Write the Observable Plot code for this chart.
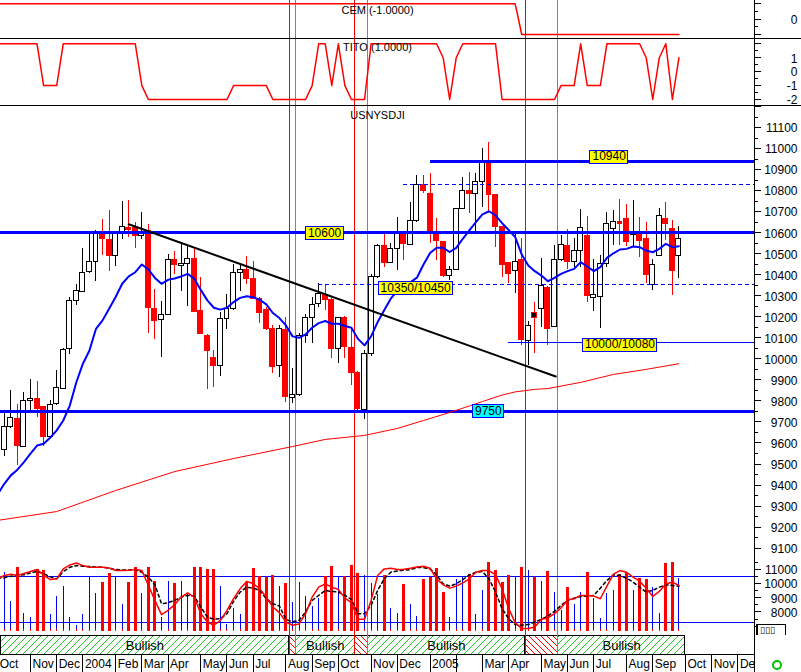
<!DOCTYPE html>
<html>
<head>
<meta charset="utf-8">
<script src="https://cdn.jsdelivr.net/npm/d3@7"></script>
<script src="https://cdn.jsdelivr.net/npm/@observablehq/plot@0.6"></script>
<style>
  html, body { margin: 0; padding: 0; background: #ffffff; }
  #chart { position: relative; width: 801px; height: 672px; overflow: hidden; background: #ffffff; }
  #chart svg { position: absolute; left: 0; overflow: visible; }
  .sep { position: absolute; left: 0; width: 801px; height: 1px; background: #000; }
  #mini { position: absolute; left: 756px; top: 624px; width: 30px; height: 11px; background: #fff;
          border: 1px solid #000; border-bottom: none; border-left-width: 2px; font: 9px 'DejaVu Sans', sans-serif; line-height: 11px; padding-left: 2px; box-sizing: border-box; }
  #dotok { position: absolute; left: 772px; top: 660px; width: 6px; height: 6px; border: 2px solid #00c000; border-radius: 50%; }
</style>
</head>
<body>
<div id="chart"></div>
<script>
// ---------------- DATA ----------------
// weekly slots: slot 0 = week ending 2003-10-03 (just off the left edge), one slot per week
const firstWeek = "2003-10-03";

const open = [null,
 9568,9676,9716,9580,9799,9807,9770,9628,9786,9858,
 10048,10274,10320,10412,10460,10601,10563,10487,10595,10623,
 10623,10585,10607,10236,10186,10209,10468,10441,10452,10473,
 10227,10111,10005,9965,10190,10238,10406,10421,10382,10287,
 10233,10140,9965,10135,9815,9826,10108,10194,10262,10305,
 10282,10048,10195,10051,9934,9755,10024,10388,10539,10455,
 10523,10591,10542,10655,10827,10785,10602,10555,10393,10423,
 10713,10796,10785,10840,10935,10777,10626,10455,10420,10471,
 10087,10219,10238,10336,10151,10471,10539,10460,10513,10582,
 10290,10294,10449,10618,10653,10666,10587,10588,10571,10349,
 10491,10666,10618,10488];
const high = [null,
 9747,9850,9782,9842,9900,9892,9775,9800,9945,10049,
 10293,10352,10523,10590,10610,10661,10706,10598,10748,10753,
 10650,10694,10639,10330,10271,10495,10511,10555,10539,10531,
 10385,10115,10040,10222,10305,10449,10449,10488,10463,10290,
 10246,10159,10159,10199,9953,10120,10211,10293,10357,10349,
 10285,10195,10200,10143,9940,10040,10400,10545,10594,10547,
 10670,10597,10745,10872,10872,10880,10666,10560,10440,10715,
 10864,10888,10880,10999,11030,10780,10630,10460,10602,10571,
 10180,10270,10476,10346,10539,10587,10613,10571,10709,10677,
 10472,10491,10698,10706,10758,10734,10753,10671,10650,10471,
 10713,10745,10658,10629];
const low = [null,
 9536,9670,9493,9578,9755,9723,9584,9620,9778,9854,
 10021,10254,10317,10404,10370,10492,10417,10439,10566,10579,
 10527,10566,10122,10092,10008,10205,10401,10322,10251,10220,
 10116,9853,9866,9918,10140,10230,10322,10355,10280,10170,
 10135,9932,9913,9794,9786,9820,10072,10072,10246,10230,
 10000,9980,10000,9873,9748,9710,10010,10380,10436,10452,
 10420,10468,10542,10650,10785,10547,10468,10388,10372,10420,
 10710,10690,10595,10721,10690,10531,10388,10357,10309,10063,
 9969,10024,10151,10064,10151,10465,10424,10436,10436,10270,
 10227,10143,10436,10539,10539,10534,10531,10480,10357,10325,
 10487,10563,10302,10381];
const close = [null,
 9676,9720,9584,9800,9810,9763,9628,9782,9862,10043,
 10274,10325,10408,10462,10601,10568,10487,10595,10626,10614,
 10582,10598,10243,10182,10209,10471,10444,10452,10476,10222,
 10116,10037,9965,10190,10238,10409,10421,10382,10287,10218,
 10140,9961,10140,9818,9826,10108,10194,10257,10309,10282,
 10048,10195,10055,9932,9760,10024,10388,10539,10455,10523,
 10594,10547,10655,10827,10797,10602,10560,10396,10423,10713,
 10797,10785,10840,10935,10777,10626,10444,10404,10461,10088,
 10157,10195,10346,10140,10471,10542,10460,10513,10623,10297,
 10303,10449,10640,10651,10641,10558,10600,10559,10397,10447,
 10679,10641,10420,10569];
const blackCandleSlot = 82;

// short moving average (blue)
const fastMa = [9357,
 9406,9446,9473,9509,9549,9588,9596,9625,9660,9707,
 9778,9889,9977,10040,10143,10183,10238,10294,10357,10392,
 10412,10449,10425,10385,10357,10376,10382,10392,10404,10381,
 10328,10278,10243,10234,10243,10270,10290,10298,10293,10281,
 10259,10218,10194,10159,10107,10100,10116,10148,10170,10180,
 10167,10167,10156,10148,10095,10064,10107,10175,10231,10286,
 10323,10345,10364,10386,10449,10503,10528,10528,10508,10528,
 10571,10611,10650,10687,10702,10682,10645,10613,10579,10496,
 10444,10417,10396,10369,10385,10404,10417,10428,10460,10439,
 10417,10436,10480,10502,10520,10523,10534,10531,10515,10507,
 10523,10547,10531,10536];

// long moving average (red), read at selected weeks
const slowMaSlots  = [0, 9, 18, 27, 36, 45, 50, 56, 61, 65, 69, 72, 74, 77, 79, 82, 84, 89, 94, 99, 104];
const slowMaValues = [9232, 9274, 9374, 9464, 9526, 9583, 9617, 9636, 9669, 9707, 9745, 9776, 9797, 9828, 9843, 9855, 9859, 9888, 9926, 9950, 9977];

// support / resistance levels
const levelFull = [10600, 9750];
const levelPartialValues = [10940, 10830, 10355, 10080];
const levelPartialStart  = [66, 62, 49, 78];
const levelLabelText  = ["10600", "10350/10450", "9750", "10940", "10000/10080"];
const levelLabelSlot  = [49.9, 63.8, 74.9, 93.35, 95.0];
const levelLabelValue = [10599, 10335, 9752, 10962, 10068];

// trend line
const trendSlots  = [20, 85.2];
const trendValues = [10640, 9916];

// CEM indicator
const cem = [
 1,1,1,1,1,1,1,1,1,1, 1,1,1,1,1,1,1,1,1,1, 1,1,1,1,1,1,1,1,1,1, 1,1,1,1,1,1,1,1,1,1,
 1,1,1,1,1,1,1,1,1,1, 1,1,1,1,1,1,1,1,1,1, 1,1,1,1,1,1,1,1,1,1, 1,1,1,1,1,1,1,1,1,1,
 -1,-1,-1,-1,-1,-1,-1,-1,-1,-1, -1,-1,-1,-1,-1,-1,-1,-1,-1,-1, -1,-1,-1,-1,-1];

// TITO indicator
const tito = [2, 2,2,2,2,2,2, -1,-1,-1, 2,2,2,2,2,2,2,2,2,2,2,2, -1,
 -2,-2,-2,-2,-2,-2,-2,-2,-2,-2,-2,-2,-2, -1,-1,-1,-1,-1,-1, -2,-2,-2,-2,-2,-2, -1, 2,2, -1, 2, -1,
 -2,-2,-2, 2,2,2,2,2,2,2,2,2,2,2, 1, -2, 1, 2,2,2,2,2,2, -2,-2,-2,-2,-2,-2,-2,-2,-2, -1,-1,-1, 2,
 -1,-1,-1, 2,2,2,2,2,2, 1, -2, 1, 2, -2, 1];

// lower panel: weekly bars and oscillator
const lowerBars = [null,
 10791,8740,11141,7921,7641,10980,10910,7830,9090,9790,
 7641,7060,7830,10441,9321,10070,10700,10441,8530,10070,
 11120,9321,11141,10161,7641,10140,10000,10140,9300,11141,
 11141,10980,10980,9790,7130,8250,7830,10091,11050,10490,
 10441,10560,9790,10000,8670,10091,9090,8390,8950,10490,
 11190,10490,10490,11260,10721,10560,10021,9230,10560,8250,
 7921,9909,8530,7690,10259,10441,11029,9391,7641,10280,
 10441,10609,7830,9510,11449,10910,10049,10560,10441,11141,
 10910,10441,10140,10840,9349,8110,9741,8530,9391,10749,
 8971,7571,9279,9510,10609,10749,9510,10329,10280,9741,
 7879,11379,11491,10371];
const lowerBarBase = 6620;
const oscFast = [10327,
 10560,10653,10560,10700,10840,10980,10607,10280,10327,11027,
 11307,11447,11260,11143,11143,11143,11097,10910,10910,10933,
 10980,10910,9860,8810,7807,8110,8507,9043,9347,9043,
 7877,7293,7060,7410,8110,8927,9627,10140,10000,9627,
 9043,8343,7947,7293,7060,7153,7877,9043,9743,9977,
 9743,9580,8973,8647,7480,7480,8810,10560,11027,11073,
 10980,11003,11073,11167,11213,11073,10327,9907,9673,9813,
 10047,10327,10793,10910,10910,10607,9627,8227,7247,6827,
 6827,6943,7480,7573,7877,8273,8857,8927,9160,9160,
 9113,8927,9813,10653,10910,10793,10443,10163,9673,9090,
 9440,9977,10093,9860];
const oscSlow = [10373,
 10397,10513,10583,10607,10747,10840,10700,10467,10327,10840,
 11143,11260,11213,11190,11167,11143,11073,10980,10957,10957,
 10980,10793,10443,9907,8577,8647,8810,9043,9160,9113,
 8343,7643,7480,7527,7877,8740,9393,9743,9673,9510,
 8927,8577,8413,7480,7293,7410,7993,8810,9160,9510,
 9440,9393,9160,8880,7877,7877,8460,9510,10327,10793,
 10887,10933,10980,11120,11120,11027,10607,9977,9813,9977,
 10280,10607,10793,10840,10327,9393,8227,7527,7107,7060,
 7107,7293,7480,7713,8040,8460,8810,8973,9090,9113,
 9160,9673,10210,10607,10560,10373,10093,9743,9393,9510,
 9743,9907,9860,9813];
const oscLevels = [10493, 7233];

// signals and regimes
const signalSlots = [44.5, 45.5, 54.5, 56.5, 80.5, 85.5];
const signalKinds = ["sell", "buy", "sell", "buy", "sell", "buy"];
const regimeStart = [0.42, 44.5, 45.5, 54.5, 56.5, 80.5, 85.5];
const regimeEnd   = [44.5, 45.5, 54.5, 56.5, 80.5, 85.5, 105];
const regimeState = ["Bullish", "", "Bullish", "", "Bullish", "", "Bullish"];

// axis ticks
const monthSlots  = [0,5,9,13,18,22,26,31,35,39,44,48,52,57,61,66,70,74,78,83,87,91,96,100,105,109,113];
const monthLabels = ["Oct","Nov","Dec","2004","Feb","Mar","Apr","May","Jun","Jul","Aug","Sep","Oct","Nov","Dec","2005","","Mar","Apr","May","Jun","Jul","Aug","Sep","Oct","Nov","Dec"];
const mainTicks  = [9100,9200,9300,9400,9500,9600,9700,9800,9900,10000,10100,10200,10300,10400,10500,10600,10700,10800,10900,11000,11100];
const lowerTicks = [7000, 8000, 9000, 10000, 11000];
const lowerTickLabels = [8000, 9000, 10000, 11000];
const titoTicks  = [1, 0, -1, -2];
const cemTicks   = [0];

// ---------------- BUILD ----------------
[open, high, low, close, fastMa, cem, tito, lowerBars, oscFast, oscSlow].forEach((a, i) => {
  if (a.length !== 105) throw new Error("array " + i + " length " + a.length);
});

const FONT = "'Liberation Sans', Arial, Helvetica, sans-serif";
const RED = "#ff0000", BLUE = "#0000ff", GREEN = "#00e000";
const CRISP = {shapeRendering: "crispEdges"};
const xDomain = [0.42, 115.535];
const slots = d3.range(105);

const candles = slots.filter(k => open[k] != null).map(k => ({k, open: open[k], high: high[k], low: low[k], close: close[k]}));
const signals = signalSlots.map((k, i) => ({k, kind: signalKinds[i]}));
const signalColor = d => d.kind === "sell" ? RED : GREEN;
const regimes = regimeStart.map((s, i) => ({k1: s, k2: regimeEnd[i], label: regimeState[i]}));
const months = monthSlots.map((k, i) => ({k, label: monthLabels[i]}));
const line = arr => slots.map(k => ({k, v: arr[k]}));
const bars = slots.filter(k => lowerBars[k] != null).map(k => ({k, v: lowerBars[k], down: close[k] < open[k]}));
const labels = levelLabelText.map((t, i) => ({text: t, k: levelLabelSlot[i], v: levelLabelValue[i], bg: t === "9750" ? "#00ffff" : "#ffff00"}));
const CW = 0.76;

function panel(height, yDomain, marks) {
  return Plot.plot({
    width: 801, height, marginLeft: 0, marginRight: 47, marginTop: 0, marginBottom: 0,
    x: {type: "linear", domain: xDomain, axis: null},
    y: {type: "linear", domain: yDomain, axis: null},
    style: {fontFamily: FONT, fontSize: "12px", background: "transparent", color: "black", overflow: "visible"},
    marks
  });
}
const mount = document.getElementById("chart");
function place(svg, top) { svg.style.top = top + "px"; mount.appendChild(svg); return svg; }
function rightTicks(major, minor, size) {
  return [
    Plot.frame({anchor: "right", ...CRISP}),
    Plot.axisY({anchor: "right", ticks: major, tickSize: size || 6, tickFormat: () => "", label: null, ...CRISP}),
    Plot.axisY({anchor: "right", ticks: minor, tickSize: 3, tickFormat: () => "", label: null, ...CRISP})
  ];
}
function rightLabels(vals) {
  return Plot.text(vals, {y: d => d, text: d => String(d), frameAnchor: "right", textAnchor: "end", dx: 43, dy: 1, fill: "black"});
}
const eventRules = () => Plot.ruleX(signals, {x: "k", stroke: signalColor, ...CRISP});

// CEM panel
place(panel(38, [-1.26, 1.215], [
  eventRules(),
  Plot.line(line(cem), {x: "k", y: "v", stroke: RED, clip: true}),
  ...rightTicks([-1, 0, 1], [-0.5, 0.5]),
  rightLabels(cemTicks),
  Plot.text(["CEM (-1.0000)"], {frameAnchor: "top", lineAnchor: "middle", dy: 10, fontSize: 11})
]), 0);

// TITO panel
place(panel(67, [-2.431, 2.381], [
  eventRules(),
  Plot.line(line(tito), {x: "k", y: "v", stroke: RED, clip: true}),
  ...rightTicks([-2, -1, 0, 1, 2], [-1.5, -0.5, 0.5, 1.5]),
  rightLabels(titoTicks),
  Plot.text(["TITO (1.0000)"], {frameAnchor: "top", lineAnchor: "middle", dy: 9, fontSize: 11})
]), 38);

// main price panel
const mainSvg = place(panel(449, [9065, 11200], [
  eventRules(),
  ...rightTicks(mainTicks.concat([11200]), mainTicks.map(v => v + 50)),
  rightLabels(mainTicks),
  Plot.text(["USNYSDJI"], {frameAnchor: "top", lineAnchor: "middle", dy: 9, fontSize: 11}),
  Plot.ruleX(candles, {x: "k", y1: "low", y2: "high", stroke: d => d.close < d.open ? RED : "black", clip: true, ...CRISP}),
  Plot.rect(candles, {x1: d => d.k - CW / 2, x2: d => d.k + CW / 2, y1: "open", y2: "close",
    fill: d => d.k === blackCandleSlot ? "black" : d.close < d.open ? RED : "white",
    stroke: d => d.close < d.open ? RED : "black", clip: true, ...CRISP}),
  Plot.ruleY(levelFull, {y: d => d, stroke: BLUE, strokeWidth: 3, ...CRISP}),
  Plot.ruleY([0], {y: () => levelPartialValues[0], x1: () => levelPartialStart[0], x2: () => xDomain[1], stroke: BLUE, strokeWidth: 3, ...CRISP}),
  Plot.ruleY([1, 2], {y: i => levelPartialValues[i], x1: i => levelPartialStart[i], x2: () => xDomain[1], stroke: BLUE, strokeDasharray: "4,3", ...CRISP}),
  Plot.ruleY([3], {y: i => levelPartialValues[i], x1: i => levelPartialStart[i], x2: () => xDomain[1], stroke: BLUE, ...CRISP}),
  Plot.line(slowMaSlots.map((k, i) => ({k, v: slowMaValues[i]})), {x: "k", y: "v", stroke: RED, strokeWidth: 1, clip: true}),
  Plot.line(line(fastMa), {x: "k", y: "v", stroke: BLUE, strokeWidth: 2, clip: true}),
  Plot.line(trendSlots.map((k, i) => ({k, v: trendValues[i]})), {x: "k", y: "v", stroke: "black", strokeWidth: 2}),
  Plot.text(labels, {x: "k", y: "v", text: "text", fill: "black", fontSize: 12})
]), 106);

// boxes behind level labels (only the texts of the last mark: the level labels)
(function () {
  const ns = "http://www.w3.org/2000/svg";
  const groups = mainSvg.querySelectorAll(":scope > g");
  const g = groups[groups.length - 1];
  g.querySelectorAll("text").forEach(t => {
    const lab = labels.find(l => l.text === t.textContent);
    if (!lab) return;
    const b = t.getBBox();
    const r = document.createElementNS(ns, "rect");
    r.setAttribute("x", Math.round(b.x) - 2.5);
    r.setAttribute("y", Math.round(b.y) + 0.5);
    r.setAttribute("width", Math.round(b.width) + 4);
    r.setAttribute("height", Math.round(b.height) - 1);
    r.setAttribute("fill", lab.bg);
    r.setAttribute("stroke", BLUE);
    r.setAttribute("shape-rendering", "crispEdges");
    if (t.getAttribute("transform")) r.setAttribute("transform", t.getAttribute("transform"));
    t.parentNode.insertBefore(r, t);
  });
})();

// lower panel
place(panel(80, [6340, 11970], [
  eventRules(),
  Plot.ruleY(oscLevels, {y: d => d, stroke: BLUE, ...CRISP}),
  Plot.ruleX(bars.filter(d => !d.down), {x: "k", y1: () => lowerBarBase, y2: "v", stroke: BLUE, strokeWidth: 1, ...CRISP}),
  Plot.ruleX(bars.filter(d => !d.down), {x: "k", y1: () => lowerBarBase, y2: () => lowerBarBase + 170, stroke: RED, strokeWidth: 1, ...CRISP}),
  Plot.ruleX(bars.filter(d => d.down), {x: "k", y1: () => lowerBarBase, y2: "v", stroke: RED, strokeWidth: 3, ...CRISP}),
  Plot.line(line(oscSlow), {x: "k", y: "v", stroke: "black", strokeDasharray: "3,3", clip: true}),
  Plot.line(line(oscFast), {x: "k", y: "v", stroke: RED, clip: true}),
  ...rightTicks(lowerTicks, lowerTicks.map(v => v + 500)),
  rightLabels(lowerTickLabels)
]), 555);

// regime band
const bandSvg = place(panel(19, [0, 1], [
  Plot.rect(regimes.filter(d => d.label), {x1: "k1", x2: "k2", fill: "url(#hatchBull)", stroke: "black", ...CRISP}),
  Plot.rect(regimes.filter(d => !d.label), {x1: "k1", x2: "k2", fill: "url(#hatchBear)", stroke: "black", ...CRISP}),
  Plot.ruleX(signals, {x: "k", stroke: signalColor, ...CRISP}),
  Plot.text(regimes.filter(d => d.label), {x: d => (d.k1 + d.k2) / 2, text: "label", frameAnchor: "middle", fontSize: 13, dy: 1}),
  Plot.frame({anchor: "right", ...CRISP})
]), 635);
(function () {
  const ns = "http://www.w3.org/2000/svg";
  const defs = document.createElementNS(ns, "defs");
  defs.innerHTML =
    '<pattern id="hatchBull" patternUnits="userSpaceOnUse" width="7" height="7">' +
    '<rect width="7" height="7" fill="white"/><path d="M-1,1 L1,-1 M0,7 L7,0 M6,8 L8,6" stroke="#22cc22" stroke-width="1"/></pattern>' +
    '<pattern id="hatchBear" patternUnits="userSpaceOnUse" width="6" height="6">' +
    '<rect width="6" height="6" fill="white"/><path d="M-1,5 L1,7 M0,0 L6,6 M5,-1 L7,1" stroke="#ff0000" stroke-width="1"/></pattern>';
  bandSvg.insertBefore(defs, bandSvg.firstChild);
})();

// time axis
place(panel(18, [0, 1], [
  Plot.frame({anchor: "top", ...CRISP}),
  Plot.frame({anchor: "right", ...CRISP}),
  Plot.ruleX(months, {x: "k", stroke: "black", clip: true, ...CRISP}),
  Plot.text(months, {x: "k", text: "label", textAnchor: "start", dx: 2, frameAnchor: "middle", dy: 1, fontSize: 12, clip: true})
]), 654);

// separators and small widgets
[38, 105].forEach(t => { const d = document.createElement("div"); d.className = "sep"; d.style.top = t + "px"; mount.appendChild(d); });
const mini = document.createElement("div"); mini.id = "mini"; mini.textContent = "\u25AF\u25AF\u25AF"; mount.appendChild(mini);
const ok = document.createElement("div"); ok.id = "dotok"; mount.appendChild(ok);
</script>
</body>
</html>
